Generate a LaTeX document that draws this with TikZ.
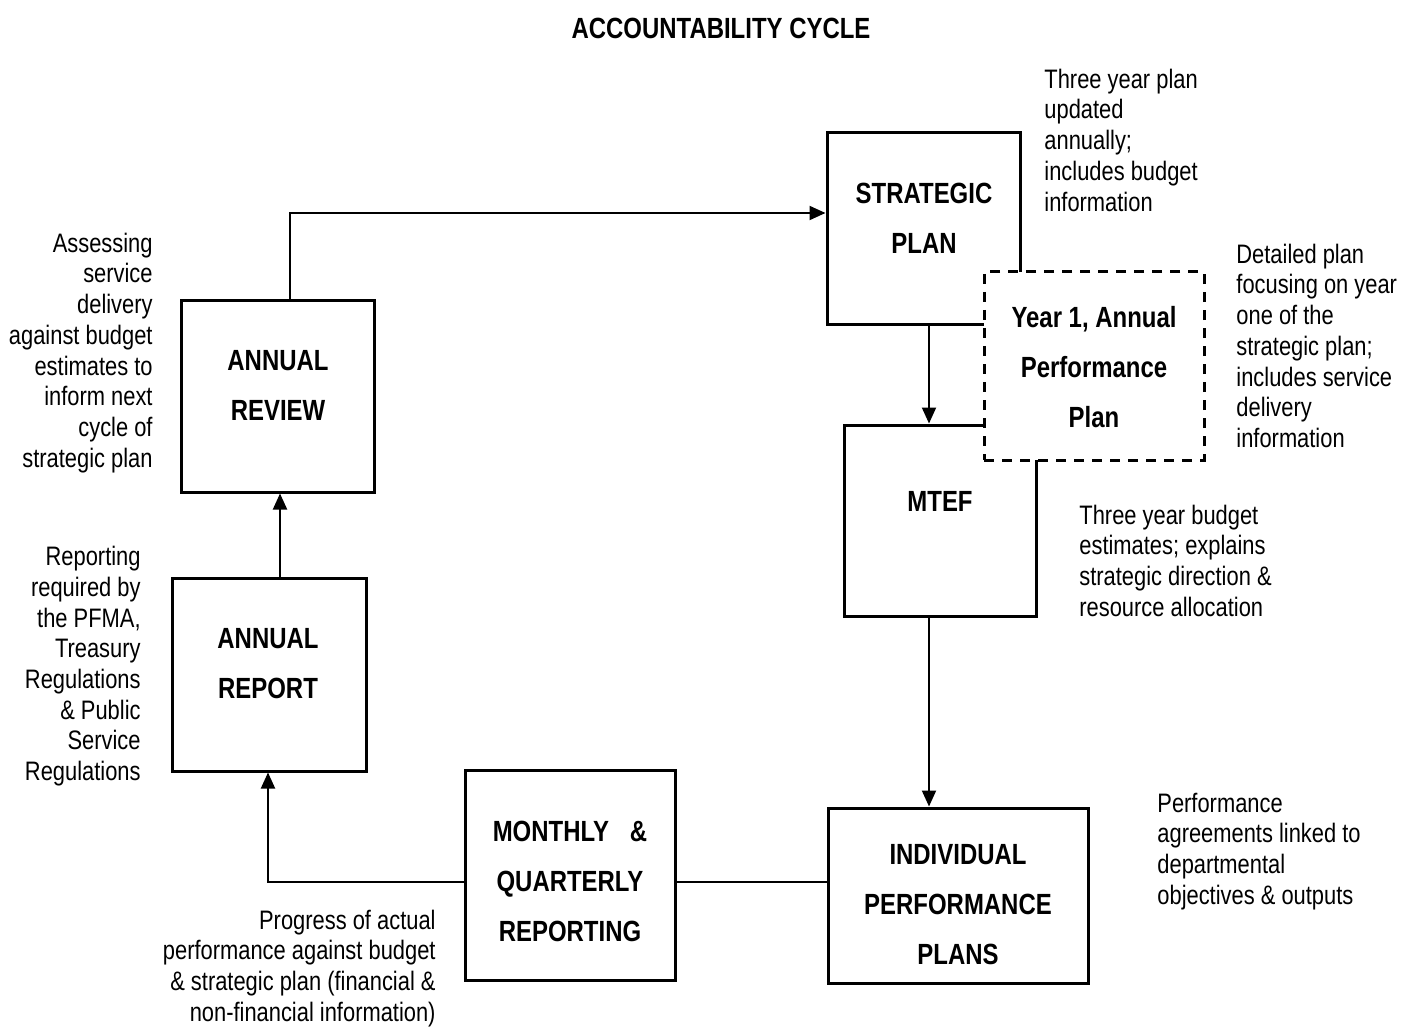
\documentclass[tikz,border=0pt]{standalone}
\usepackage{fontspec}
\setmainfont[FakeStretch=0.82]{Liberation Sans}
\usetikzlibrary{arrows.meta}
\begin{document}
\begin{tikzpicture}[x=0.5pt,y=-0.5pt,
 box/.style={draw, line width=1.5pt, inner sep=0pt},
 dbox/.style={box, fill=white, dash pattern=on 5pt off 4pt},
 lbl/.style={font=\fontsize{14.6}{25}\selectfont\bfseries, align=center, inner sep=0pt, anchor=north},
 note/.style={font=\fontsize{13.35}{15.35}\selectfont, inner sep=0pt},
 noteL/.style={note, align=left, anchor=north west},
 noteR/.style={note, align=right, anchor=north east},
 conn/.style={line width=1pt},
 arr/.style={conn, -{Triangle[length=8pt,width=7pt]}}]
\fill[white] (0,0) rectangle (1413,1027);
\useasboundingbox (0,0) rectangle (1413,1027);

% boxes
\node[box, minimum width=96.5pt, minimum height=95.5pt] (sp) at (923.5,228.5) {};
\node[box, minimum width=96pt, minimum height=95.5pt] (mtef) at (940,520.5) {};
\node[dbox, minimum width=110pt, minimum height=94pt] (y1) at (1094,366) {};
\node[box, minimum width=130pt, minimum height=87.5pt] (ipp) at (958,895.5) {};
\node[box, minimum width=105pt, minimum height=105pt] (mqr) at (570,875) {};
\node[box, minimum width=97pt, minimum height=96.5pt] (anr) at (269,674.5) {};
\node[box, minimum width=96.5pt, minimum height=96pt] (ar) at (277.5,396) {};

% box labels
\node[lbl, anchor=center] (title) at (721,28) {ACCOUNTABILITY CYCLE};
\node[lbl] (sp-t) at (924,182.5) {STRATEGIC\\PLAN};
\node[lbl] (y1-t) at (1094,305.5) {Year 1, Annual\\Performance\\Plan};
\node[lbl] (mtef-t) at (940,491.5) {MTEF};
\node[lbl] (ipp-t) at (958,844.5) {INDIVIDUAL\\PERFORMANCE\\PLANS};
\node[lbl] (mqr-t) at (570,820.5) {MONTHLY\hspace{10.5pt}\&\\QUARTERLY\\REPORTING};
\node[lbl] (anr-t) at (268,628.5) {ANNUAL\\REPORT};
\node[lbl] (ar-t) at (278,350.5) {ANNUAL\\REVIEW};

% connectors
\coordinate (c1) at (290,213);
\draw[arr] (ar.north -| c1) |- (sp.west |- c1);
\coordinate (c2) at (929,0);
\draw[arr] (sp.south -| c2) -- (mtef.north -| c2);
\draw[arr] (mtef.south -| c2) -- (ipp.north -| c2);
\coordinate (c3) at (0,882);
\draw[conn] (ipp.west |- c3) -- (mqr.east |- c3);
\coordinate (c4) at (268,882);
\draw[arr] (mqr.west |- c4) -| (anr.south -| c4);
\coordinate (c5) at (280,0);
\draw[arr] (anr.north -| c5) -- (ar.south -| c5);

% annotations
\node[noteL] (n-sp) at (1044,68.5) {Three year plan\\updated\\annually;\\includes budget\\information};
\node[noteL] (n-y1) at (1236,243.5) {Detailed plan\\focusing on year\\one of the\\strategic plan;\\includes service\\delivery\\information};
\node[noteL] (n-mtef) at (1079,504.5) {Three year budget\\estimates; explains\\strategic direction \&\\resource allocation};
\node[noteL] (n-ipp) at (1157,792.5) {Performance\\agreements linked to\\departmental\\objectives \& outputs};
\node[noteR] (n-ar) at (153,232.5) {Assessing\\service\\delivery\\against budget\\estimates to\\inform next\\cycle of\\strategic plan};
\node[noteR] (n-anr) at (141,546) {Reporting\\required by\\the PFMA,\\Treasury\\Regulations\\\& Public\\Service\\Regulations};
\node[noteR] (n-mqr) at (436,909.5) {Progress of actual\\performance against budget\\\& strategic plan (financial \&\\non-financial information)};
\end{tikzpicture}
\end{document}
